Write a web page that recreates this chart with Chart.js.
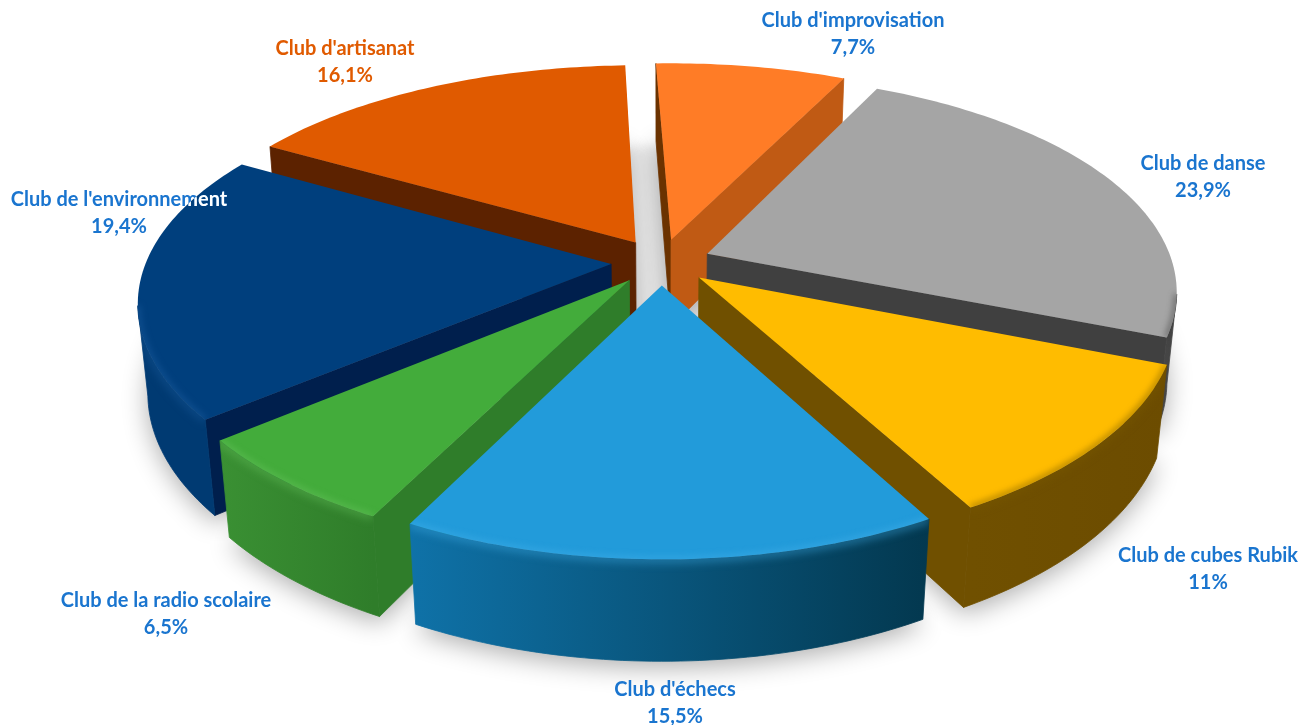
<!DOCTYPE html>
<html>
<head>
<meta charset="utf-8">
<title>Clubs</title>
<script src="https://cdn.jsdelivr.net/npm/chart.js@4"></script>
<style>
  html, body { margin: 0; background: #fff; }
  canvas { display: block; }
</style>
</head>
<body>
<canvas id="myChart" width="1302" height="725"></canvas>
<script>
// data
const categories = ["Club d'improvisation", "Club de danse", "Club de cubes Rubik", "Club d'échecs", "Club de la radio scolaire", "Club de l'environnement", "Club d'artisanat"];
const percents = [7.7, 23.9, 11, 15.5, 6.5, 19.4, 16.1];

// colours per slice
const topColors = ["#FF7C26", "#A5A5A5", "#FFBC00", "#229BDA", "#43AC3B", "#003F7D", "#E05A00"];
const wallStart = ["#6B3200", "#404040", "#705000", "#0F6FA3", "#2F7D2A", "#001F4D", "#5C2200"];
const wallEnd = ["#C05A14", "#404040", "#705000", "#0F6FA3", "#2F7D2A", "#001F4D", "#5C2200"];
const arcLeft = ["#C05A14", "#666666", "#705000", "#0F72A8", "#3A9033", "#003A72", "#5C2200"];
const arcRight = ["#C05A14", "#444444", "#6C4C00", "#03384F", "#2F7D2A", "#003A72", "#5C2200"];
const rimColors = ["#FF9A55", "#3C3C3C", "#7A5A00", "#3FAEE8", "#66C25C", "#1A5C9E", "#F08030"];
const labelColors = ["#1A75CF", "#1A75CF", "#1A75CF", "#1A75CF", "#1A75CF", "#1A75CF", "#E05A00"];

// label centres, first line then second line
const labelX = [853, 1203, 1208, 675, 166, 119, 345];
const labelY = [21, 164, 556, 690, 601, 200, 49];
const lineGap = 27;

// camera
const CX = 661, CY = 262, DEPTH = 103, D = 2275, SIN_E = 0.463, COS_E = 0.875, X_PERSP = 0.9;

function project(X, Y, Z) {
  const u = Y * COS_E - Z * SIN_E;
  const s = D / (D - u);
  return { x: CX + X * (1 + (s - 1) * X_PERSP), y: CY + (Y * SIN_E + Z * COS_E) * s };
}

function sliceGeometry(el) {
  const mid = (el.startAngle + el.endAngle) / 2;
  const off = el.options.offset || 0;
  const ox = Math.cos(mid) * off, oy = Math.sin(mid) * off;
  const r = el.outerRadius;
  const steps = Math.ceil((el.endAngle - el.startAngle) / (Math.PI / 180));
  const top = [], bottom = [];
  for (let i = 0; i <= steps; i++) {
    const a = el.startAngle + (el.endAngle - el.startAngle) * i / steps;
    top.push(project(ox + r * Math.cos(a), oy + r * Math.sin(a), 0));
    bottom.push(project(ox + r * Math.cos(a), oy + r * Math.sin(a), DEPTH));
  }
  return { top, bottom, apexTop: project(ox, oy, 0), apexBottom: project(ox, oy, DEPTH), sort: oy, r };
}

function poly(ctx, pts) {
  ctx.beginPath();
  pts.forEach((p, i) => (i ? ctx.lineTo(p.x, p.y) : ctx.moveTo(p.x, p.y)));
  ctx.closePath();
}

function drawWall(ctx, pts, color) {
  poly(ctx, pts);
  ctx.fillStyle = color;
  ctx.strokeStyle = color;
  ctx.lineWidth = 0.8;
  ctx.fill();
  ctx.stroke();
}

const pie3d = {
  id: "pie3d",
  beforeDatasetDraw(chart) {
    const ctx = chart.ctx;
    const arcs = chart.getDatasetMeta(0).data;
    const slices = arcs.map((el, i) => ({ i, g: sliceGeometry(el) }));

    // grey seen through the gap between the back slices
    ctx.save();
    ctx.filter = "blur(5px)";
    ctx.fillStyle = "#EBEBEB";
    const disc = [];
    for (let a = 0; a < 360; a += 4) {
      const t = a * Math.PI / 180, r = slices[0].g.r * 0.6;
      disc.push(project(r * Math.cos(t), r * Math.sin(t), 0));
    }
    poly(ctx, disc);
    ctx.fill();
    ctx.restore();

    // soft shadow on the ground
    ctx.save();
    ctx.shadowColor = "rgba(0,0,0,0.32)";
    ctx.shadowBlur = 26;
    ctx.shadowOffsetY = 6;
    ctx.fillStyle = "#ccc";
    slices.forEach(({ g }) => {
      poly(ctx, [g.apexBottom, ...g.bottom]);
      ctx.fill();
    });
    ctx.restore();

    // back to front
    slices.sort((a, b) => a.g.sort - b.g.sort).forEach(({ i, g }) => {
      const first = g.top[0], last = g.top[g.top.length - 1];
      // radial walls, only the ones turned to the viewer
      if (first.x < g.apexTop.x) drawWall(ctx, [g.apexTop, first, g.bottom[0], g.apexBottom], wallStart[i]);
      if (g.apexTop.x < last.x) drawWall(ctx, [last, g.apexTop, g.apexBottom, g.bottom[g.bottom.length - 1]], wallEnd[i]);

      // outer wall: the run of arc that faces the viewer
      const xs = g.top.map((p) => p.x);
      const grad = ctx.createLinearGradient(Math.min(...xs), 0, Math.max(...xs), 0);
      grad.addColorStop(0, arcLeft[i]);
      grad.addColorStop(1, arcRight[i]);
      const run = [];
      for (let k = 0; k < g.top.length; k++) {
        const before = k > 0 && g.top[k].x < g.top[k - 1].x;
        const after = k < g.top.length - 1 && g.top[k + 1].x < g.top[k].x;
        if (before || after) run.push(k);
      }
      const wallPts = [...run.map((k) => g.top[k]), ...run.slice().reverse().map((k) => g.bottom[k])];

      if (run.length) {
        drawWall(ctx, wallPts, grad);
        // bevel under the rim
        ctx.save();
        poly(ctx, wallPts);
        ctx.clip();
        ctx.filter = "blur(4px)";
        ctx.strokeStyle = rimColors[i];
        ctx.globalAlpha = 0.5;
        ctx.lineWidth = 7;
        ctx.beginPath();
        run.forEach((k, n) => (n ? ctx.lineTo(g.top[k].x, g.top[k].y) : ctx.moveTo(g.top[k].x, g.top[k].y)));
        ctx.stroke();
        ctx.restore();
      }

      // top face
      poly(ctx, [g.apexTop, ...g.top]);
      ctx.fillStyle = topColors[i];
      ctx.fill();

      // bevel on the top face
      if (run.length) {
        ctx.save();
        poly(ctx, [g.apexTop, ...g.top]);
        ctx.clip();
        ctx.filter = "blur(3px)";
        ctx.strokeStyle = rimColors[i];
        ctx.lineWidth = 5;
        ctx.globalAlpha = 0.6;
        ctx.beginPath();
        run.forEach((k, n) => (n ? ctx.lineTo(g.top[k].x, g.top[k].y) : ctx.moveTo(g.top[k].x, g.top[k].y)));
        ctx.stroke();
        ctx.restore();
      }
    });

    // text
    ctx.save();
    ctx.font = "bold 20px Lato";
    ctx.textAlign = "center";
    ctx.textBaseline = "middle";
    categories.forEach((name, i) => {
      const pct = String(percents[i]).replace(".", ",") + "%";
      ctx.fillStyle = labelColors[i];
      ctx.fillText(name, labelX[i], labelY[i]);
      ctx.fillText(pct, labelX[i], labelY[i] + lineGap);
      // the end of this label sits on the dark slice, it turns white there
      if (i === 5) {
        const g = slices.find((s) => s.i === 5).g;
        ctx.save();
        poly(ctx, [g.apexTop, ...g.top]);
        ctx.clip();
        ctx.fillStyle = "#fff";
        ctx.fillText(name, labelX[i], labelY[i]);
        ctx.restore();
      }
    });
    ctx.restore();

    return false; // library's flat arcs are replaced by the drawing above
  },
};

new Chart(document.getElementById("myChart"), {
  type: "pie",
  data: {
    labels: categories,
    datasets: [{ data: percents, backgroundColor: topColors, offset: 50, borderWidth: 0 }],
  },
  options: {
    responsive: false,
    animation: false,
    rotation: -2,
    radius: 465,
    plugins: { legend: { display: false }, tooltip: { enabled: false } },
  },
  plugins: [pie3d],
});
</script>
</body>
</html>
